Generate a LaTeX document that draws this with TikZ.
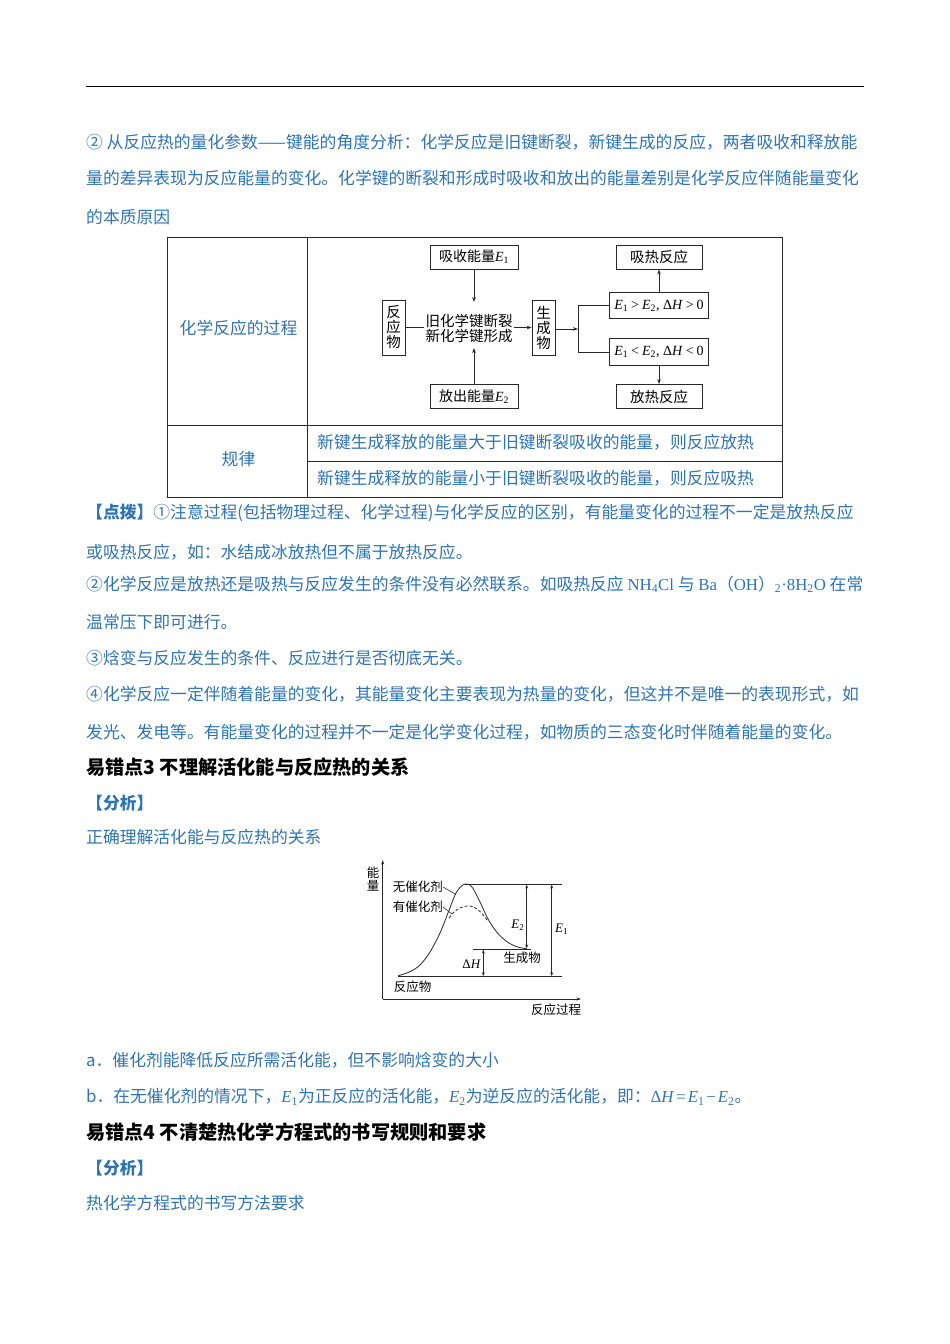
\documentclass[tikz,border=0pt]{standalone}
\usepackage{fontspec}
\setmainfont{Noto Sans CJK SC}
\newfontfamily\lat{Liberation Serif}
\usetikzlibrary{arrows.meta}
\definecolor{tblue}{RGB}{46,116,181}
\definecolor{lgray}{RGB}{40,40,40}
\newcommand\bodyf{\fontsize{16.8}{20}\selectfont}
\newcommand\headf{\fontsize{19.2}{22}\selectfont\bfseries}
\newcommand\Ev[1]{{\lat\itshape E\/}\textsubscript{\lat #1}}
\newcommand\dH{{\lat Δ\itshape H\/}}
\newcommand\rs{\hspace{3pt}}
\tikzset{
  txt/.style={anchor=base west, inner sep=0pt, text=tblue, font=\bodyf},
  head/.style={anchor=base west, inner sep=0pt, text=black, font=\headf},
  ctxt/.style={inner sep=0pt, text=tblue, font=\bodyf},
  fbox/.style={draw=lgray, line width=0.9pt, inner sep=0pt, minimum width=88pt, minimum height=24pt, font=\fontsize{14}{16}\selectfont, text=black},
  vbox/.style={draw=lgray, line width=0.9pt, inner sep=0pt, minimum width=23pt, minimum height=55pt, align=center, font=\fontsize{14.5}{15}\selectfont, text=black},
  cbox/.style={draw=lgray, line width=0.9pt, inner sep=0pt, minimum width=99pt, minimum height=26.5pt, font=\fontsize{14}{16}\selectfont, text=black},
  farr/.style={line width=0.8pt, draw=lgray, -{Stealth[length=5pt,width=3.6pt]}},
  fline/.style={line width=0.8pt, draw=lgray},
  gline/.style={line width=0.8pt, draw=lgray},
  garr/.style={line width=0.7pt, draw=lgray, {Stealth[length=4pt,width=2.8pt]}-{Stealth[length=4pt,width=2.8pt]}},
  gtxt/.style={inner sep=0pt, text=black, font=\fontsize{12.5}{13}\selectfont},
}
\begin{document}
\begin{tikzpicture}[x=1pt,y=-1pt]
\useasboundingbox (0,0) rectangle (950,1344);
\fill[white] (0,0) rectangle (950,1344);
% top rule
\draw[line width=1.5pt] (86,86.5) -- (864,86.5);
% paragraph 1
\node[txt] (p1) at (86,148.1) {② 从反应热的量化参数——键能的角度分析：化学反应是旧键断裂，新键生成的反应，两者吸收和释放能};
\node[txt] (p2) at (86,184.7) {量的差异表现为反应能量的变化。化学键的断裂和形成时吸收和放出的能量差别是化学反应伴随能量变化};
\node[txt] (p3) at (86,223.1) {的本质原因};
% table
\draw[line width=1pt, lgray] (167,237) rectangle (782,497);
\draw[line width=1pt, lgray] (307,237) -- (307,497);
\draw[line width=1pt, lgray] (167,425) -- (782,425);
\draw[line width=1pt, lgray] (307,461) -- (782,461);
\node[ctxt] (t1) at (238.5,328) {化学反应的过程};
\node[ctxt] (t2) at (238.5,459) {规律};
\node[txt] (r1) at (317,448.4) {新键生成释放的能量大于旧键断裂吸收的能量，则反应放热};
\node[txt] (r2) at (317,484.4) {新键生成释放的能量小于旧键断裂吸收的能量，则反应吸热};
% flowchart
\node[fbox] (e1box) at (474,257) {吸收能量\Ev{1}};
\node[fbox] (e2box) at (474,396.5) {放出能量\Ev{2}};
\node[vbox] (rbox) at (393.5,327.5) {反\\应\\物};
\node[vbox] (pbox) at (543.5,327.5) {生\\成\\物};
\node[inner sep=1pt, align=center, text=black, font=\fontsize{14.5}{15}\selectfont] (mid) at (469,328.5) {旧化学键断裂\\新化学键形成};
\coordinate (e1end) at (474,302);
\coordinate (e2end) at (474,348);
\draw[farr] (e1box.south) -- (e1end);
\draw[farr] (e2box.north) -- (e2end);
\draw[fline] (rbox.east) -- (rbox.east -| mid.west);
\draw[farr] (pbox.west -| mid.east) -- (pbox.west);
\node[cbox] (gt) at (659,305.5) {{\lat\Ev{1}\rs>\rs\Ev{2}, \dH\rs>\rs0}};
\node[cbox] (lt) at (659,352) {{\lat\Ev{1}\rs<\rs\Ev{2}, \dH\rs<\rs0}};
\node[fbox, minimum width=86pt, font=\fontsize{14.5}{16}\selectfont] (endo) at (659,257) {吸热反应};
\node[fbox, minimum width=86pt, font=\fontsize{14.5}{16}\selectfont] (exo) at (659,396.5) {放热反应};
\coordinate (split) at (578,329);
\draw[farr] (pbox.east |- split) -- (split);
\draw[fline] (gt.west) -- (gt.west -| split) -- (lt.west -| split) -- (lt.west);
\draw[farr] (gt.north) -- (endo.south);
\draw[farr] (lt.south) -- (exo.north);
% notes
\node[txt] (n1) at (86,518.1) {\textbf{【点拨】}①注意过程(包括物理过程、化学过程)与化学反应的区别，有能量变化的过程不一定是放热反应};
\node[txt] (n2) at (86,558.1) {或吸热反应，如：水结成冰放热但不属于放热反应。};
\node[txt] (n3) at (86,590.4) {②化学反应是放热还是吸热与反应发生的条件没有必然联系。如吸热反应 {\lat NH\textsubscript{4}Cl} 与 {\lat Ba}（{\lat OH}）{\lat \textsubscript{2}·8H\textsubscript{2}O} 在常};
\node[txt] (n4) at (86,628.1) {温常压下即可进行。};
\node[txt] (n5) at (86,664.1) {③焓变与反应发生的条件、反应进行是否彻底无关。};
\node[txt] (n6) at (86,700.4) {④化学反应一定伴随着能量的变化，其能量变化主要表现为热量的变化，但这并不是唯一的表现形式，如};
\node[txt] (n7) at (86,738.4) {发光、发电等。有能量变化的过程并不一定是化学变化过程，如物质的三态变化时伴随着能量的变化。};
\node[head] (h1) at (86,774) {易错点3 不理解活化能与反应热的关系};
\node[txt, font=\bodyf\bfseries] (a1) at (86,809.4) {【分析】};
\node[txt] (a2) at (86,843.1) {正确理解活化能与反应热的关系};
% graph
\coordinate (O) at (382.7,999);
\coordinate (ytop) at (382.7,860);
\coordinate (xend) at (581,999);
\draw[gline, -{Stealth[length=4.5pt,width=3pt]}] (O) -- (ytop);
\draw[gline, -{Stealth[length=4.5pt,width=3pt]}] (O) -- (xend);
\node[gtxt, align=center, font=\fontsize{12.5}{13}\selectfont] (ylab) at (373,879) {能\\量};
\node[gtxt] (xlab) at (556,1010) {反应过程};
\draw[gline] plot[smooth, tension=0.55] coordinates {(398.3,975.7) (410,971.7) (420,965) (430,952) (440,933) (448,913) (455,895) (460,887.5) (465,884) (471.7,886.7) (480,902) (488,919) (496.7,932) (506.7,941.5) (516.7,946.7) (526.7,948.7)};
\draw[gline, dashed, dash pattern=on 3pt off 2pt] plot[smooth, tension=0.6] coordinates {(449,918) (454,912) (460,908) (466.7,906) (473,906.7) (480,911.5) (487,920)};
\draw[gline] (465,884) -- (561.7,884);
\draw[gline] (473,949) -- (531,949);
\draw[gline] (398,976.7) -- (561.7,976.7);
\draw[garr] (526.7,884.5) -- (526.7,948.5);
\draw[garr] (551.7,884.5) -- (551.7,976.2);
\draw[garr] (483.3,949.5) -- (483.3,976.2);
\node[gtxt, anchor=east, font=\fontsize{13}{14}\selectfont] (e2lab) at (524.5,925) {\Ev{2}};
\node[gtxt, anchor=west, font=\fontsize{13}{14}\selectfont] (e1lab) at (555,929) {\Ev{1}};
\node[gtxt, anchor=east, font=\fontsize{13}{14}\selectfont] (dhlab) at (481,964) {\dH};
\node[gtxt] (prod) at (522,958) {生成物};
\node[gtxt] (reac) at (412.5,987) {反应物};
\node[gtxt, anchor=east] (nocat) at (443,887) {无催化剂};
\node[gtxt, anchor=east] (cat) at (443,907) {有催化剂};
\draw[gline, line width=0.6pt] (nocat.east) -- (456,894.5);
\draw[gline, line width=0.6pt] (cat.east) -- (452,914);
% bottom text
\node[txt] (b1) at (86,1066.4) {a．催化剂能降低反应所需活化能，但不影响焓变的大小};
\node[txt] (b2) at (86,1102.4) {b．在无催化剂的情况下，\Ev{1}为正反应的活化能，\Ev{2}为逆反应的活化能，即：{\lat\dH\hspace{2pt}=\hspace{2pt}\Ev{1}\hspace{2pt}−\hspace{2pt}\Ev{2}}。};
\node[head] (h2) at (86,1139) {易错点4 不清楚热化学方程式的书写规则和要求};
\node[txt, font=\bodyf\bfseries] (a3) at (86,1174.4) {【分析】};
\node[txt] (a4) at (86,1209.1) {热化学方程式的书写方法要求};
\end{tikzpicture}
\end{document}
